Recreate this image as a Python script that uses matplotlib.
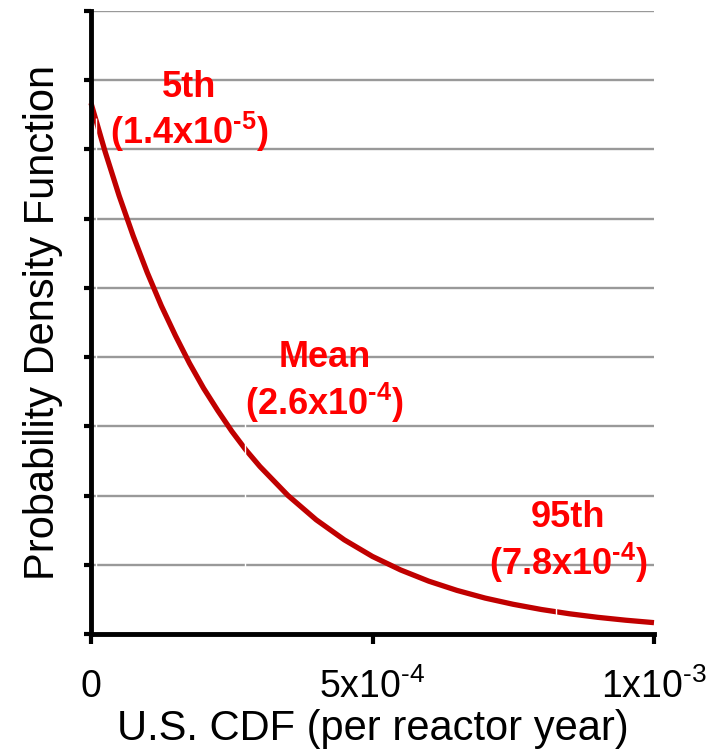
import matplotlib
matplotlib.use("Agg")
import matplotlib.pyplot as plt

plt.rcParams['font.family'] = ['Liberation Sans', 'DejaVu Sans']
plt.rcParams['mathtext.fontset'] = 'custom'
plt.rcParams['mathtext.rm'] = 'Liberation Sans'
plt.rcParams['mathtext.it'] = 'Liberation Sans:italic'
plt.rcParams['mathtext.bf'] = 'Liberation Sans:bold'

# Curve (x in per reactor year, y in gridline units)
cdf_x = [0.0, 0.25e-4, 0.5e-4, 0.75e-4, 1.0e-4, 1.25e-4, 1.5e-4, 1.75e-4, 2.0e-4,
         2.25e-4, 2.5e-4, 2.75e-4, 3.0e-4, 3.5e-4, 4.0e-4, 4.5e-4, 5.0e-4, 5.5e-4,
         6.0e-4, 6.5e-4, 7.0e-4, 7.5e-4, 8.0e-4, 8.5e-4, 9.0e-4, 9.5e-4, 1.0e-3]
pdf_y = [7.67, 6.97, 6.33, 5.75, 5.22, 4.74, 4.31, 3.91, 3.55,
         3.23, 2.93, 2.66, 2.42, 2.00, 1.65, 1.36, 1.12, 0.925,
         0.763, 0.630, 0.519, 0.429, 0.354, 0.292, 0.241, 0.199, 0.164]

# White drop-lines at the marked percentiles (x position, top)
mark_x = [0.9e-5, 2.74e-4, 8.26e-4]
mark_top = [7.45, 3.3, 0.5]

labels_top = ['5th', 'Mean', '95th']
labels_val = ['(1.4x10$^{\\mathbf{\u2010}\\mathbf{5}}$)',
              '(2.6x10$^{\\mathbf{\u2010}\\mathbf{4}}$)',
              '(7.8x10$^{\\mathbf{\u2010}\\mathbf{4}}$)']
label_x = [1.75e-4, 4.15e-4, 8.47e-4]
label_y1 = [7.9, 4.0, 1.68]
label_y2 = [7.26, 3.34, 1.03]

xticks = [0, 5e-4, 1e-3]
xticklabels = ['0', '5x10$^{\u20104}$', '1x10$^{\u20103}$']
yticks = list(range(10))

fig = plt.figure(figsize=(7.17, 7.51), dpi=100)
ax = fig.add_axes([91/717, 1-634/751, (654-91)/717, (634-11)/751])

ax.set_xlim(0, 1e-3)
ax.set_ylim(0, 9)
ax.set_yticks(yticks)
ax.set_yticklabels([])
ax.set_xticks(xticks)
ax.set_xticklabels(xticklabels, fontsize=27)

ax.yaxis.grid(True, color='#999999', linewidth=1.7, zorder=0)
ax.set_axisbelow(True)

ax.plot(cdf_x, pdf_y, color='#c00000', linewidth=3.8, zorder=3, clip_on=False,
        solid_capstyle='butt', solid_joinstyle='round')
ax.vlines(mark_x, 0, mark_top, colors='white', linewidth=1.0, zorder=4)

for t, v, x, y1, y2 in zip(labels_top, labels_val, label_x, label_y1, label_y2):
    ax.text(x, y1, t, color='#ff0000', fontsize=26, fontweight='bold',
            ha='center', va='center', zorder=5)
    ax.text(x, y2, v, color='#ff0000', fontsize=26, fontweight='bold',
            ha='center', va='center', zorder=5)

for s in ['top', 'right']:
    ax.spines[s].set_visible(False)
for s in ['left', 'bottom']:
    ax.spines[s].set_linewidth(3.5)
    ax.spines[s].set_color('black')
    ax.spines[s].set_zorder(6)

ax.tick_params(axis='y', direction='out', length=5, width=3, color='black')
ax.tick_params(axis='x', direction='out', length=7, width=3, color='black', pad=18)

ax.set_ylabel('Probability Density Function', fontsize=30, labelpad=12)
ax.set_xlabel('U.S. CDF (per reactor year)', fontsize=30, labelpad=2)

fig.savefig('out.png', dpi=100)
